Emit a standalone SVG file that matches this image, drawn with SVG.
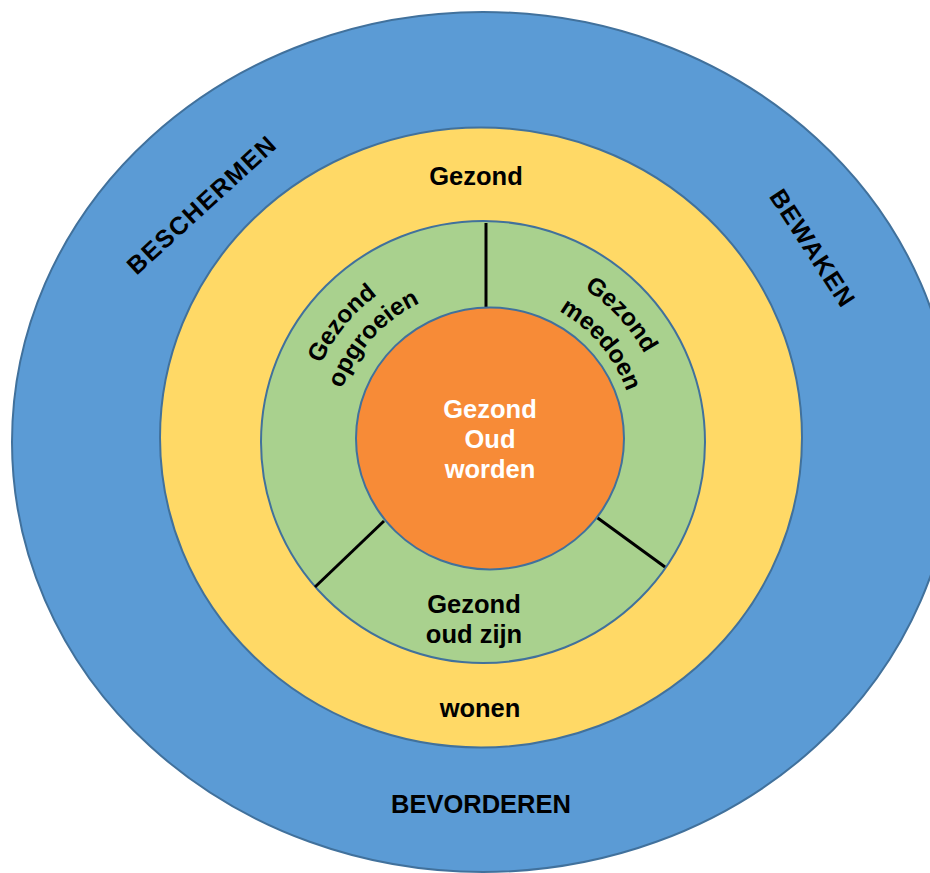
<svg xmlns="http://www.w3.org/2000/svg" width="930" height="873" viewBox="0 0 930 873">
<style>
.ring{stroke:#41719C;stroke-width:2}
.t{font-family:"Liberation Sans",Arial,sans-serif;font-weight:bold;fill:#000}
.s{font-size:25.5px;text-anchor:middle}
.c{font-size:24.5px}
.w{fill:#fff}
.div{stroke:#000;stroke-width:3;fill:none}
</style>
<defs>
<path id="arcL1" d="M315.9,505.6 A182,182 0 0 1 515.1,261.3"/>
<path id="arcL2" d="M340.3,487.8 A153,153 0 0 1 518.3,291.5"/>
<path id="arcR1" d="M445.3,264.6 A181,181 0 0 1 659.1,493.9"/>
<path id="arcR2" d="M460.1,294.3 A149,149 0 0 1 626,492"/>
</defs>
<rect width="930" height="873" fill="#fff"/>
<g id="outer">
<ellipse class="ring" cx="483" cy="442" rx="471" ry="430" fill="#5B9BD5"/>
<text class="t s" transform="translate(207,211.6) rotate(-42.4)" textLength="191" lengthAdjust="spacing" style="font-size:25px">BESCHERMEN</text>
<text class="t s" transform="translate(805,252.4) rotate(57)" textLength="134" lengthAdjust="spacing" style="font-size:25px">BEWAKEN</text>
<text class="t s" x="481" y="813">BEVORDEREN</text>
</g>
<g id="yellow">
<ellipse class="ring" cx="481" cy="437.5" rx="321" ry="310" fill="#FFD966"/>
<text class="t s" x="476" y="185">Gezond</text>
<text class="t s" x="480" y="717">wonen</text>
</g>
<g id="green">
<ellipse class="ring" cx="483" cy="442" rx="222" ry="221" fill="#A9D18E"/>
<text class="t c"><textPath href="#arcL1" startOffset="50%" text-anchor="middle">Gezond</textPath></text>
<text class="t c"><textPath href="#arcL2" startOffset="50%" text-anchor="middle">opgroeien</textPath></text>
<text class="t c"><textPath href="#arcR1" startOffset="50%" text-anchor="middle">Gezond</textPath></text>
<text class="t c"><textPath href="#arcR2" startOffset="50%" text-anchor="middle">meedoen</textPath></text>
<text class="t s" x="474" y="613">Gezond</text>
<text class="t s" x="474" y="643">oud zijn</text>
</g>
<g id="connectors">
<line class="div" x1="486" y1="223" x2="486" y2="309"/>
<line class="div" x1="384" y1="521" x2="315" y2="587"/>
<line class="div" x1="595" y1="516" x2="665" y2="567"/>
</g>
<g id="center">
<ellipse class="ring" cx="490" cy="438.5" rx="134" ry="131" fill="#F78B37"/>
<text class="t s w" x="490" y="418">Gezond</text>
<text class="t s w" x="490" y="448">Oud</text>
<text class="t s w" x="490" y="478">worden</text>
</g>
</svg>
